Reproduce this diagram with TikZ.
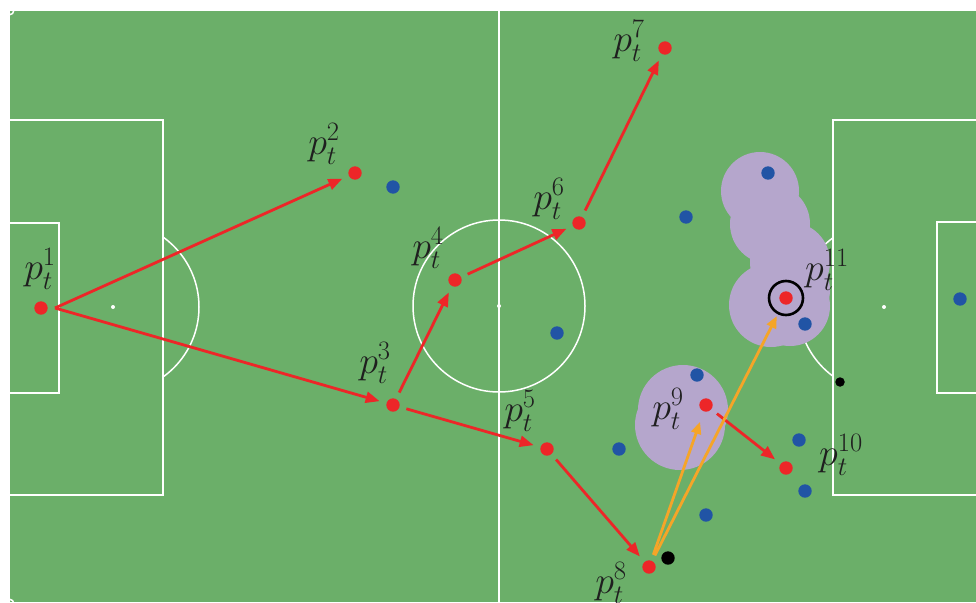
\RequirePackage{fix-cm}
\documentclass[tikz,border=0pt]{standalone}
\usetikzlibrary{arrows.meta}
\definecolor{pitch}{RGB}{107,175,105}
\definecolor{pred}{RGB}{237,38,40}
\definecolor{pblue}{RGB}{33,84,165}
\definecolor{porange}{RGB}{245,165,40}
\definecolor{ppurple}{RGB}{181,166,204}
\begin{document}
\begin{tikzpicture}[x=1pt,y=-1pt,
  pline/.style={white,line width=1.5pt},
  dot/.style={circle,inner sep=0pt,minimum size=13.4pt,draw=none},
  reddot/.style={dot,fill=pred},
  bluedot/.style={dot,fill=pblue},
  blackdot/.style={dot,fill=black},
  redarr/.style={pred,line width=2.8pt,-{Triangle[length=14pt,width=11pt]},shorten <=7pt,shorten >=7pt},
  orarr/.style={porange,line width=2.8pt,-{Triangle[length=12pt,width=10pt]}},
  lbl/.style={inner sep=0pt,font=\fontsize{38}{40}\selectfont,text=black!88}]
\useasboundingbox (0,0) rectangle (976,602);
\fill[white] (0,0) rectangle (976,602);
\fill[pitch] (9,10) rectangle (976,602);
% pitch markings
\begin{scope}
  \clip (9,10) rectangle (976,602);
  \draw[pline] (9,10) rectangle (989,604);
  \draw[pline] (9,10) circle (5);
  \draw[pline] (9,604) circle (5);
  \draw[pline] (499,10) -- (499,604);
  \draw[pline] (499,306) circle (86);
  \fill[white] (499,306) circle (2);
  \draw[pline] (9,120) rectangle (163,495);
  \draw[pline] (9,223) rectangle (59,393);
  \fill[white] (113,307) circle (2);
  \begin{scope}
    \clip (163,0) rectangle (300,602);
    \draw[pline] (113,307) circle (86);
  \end{scope}
  \draw[pline] (833,120) rectangle (989,495);
  \draw[pline] (937,222) rectangle (989,393);
  \fill[white] (884,307) circle (2);
  \begin{scope}
    \clip (700,0) rectangle (833,602);
    \draw[pline] (884,307) circle (86);
  \end{scope}
\end{scope}
% influence regions
\fill[ppurple] (760,191) circle (39);
\fill[ppurple] (770,224) circle (40);
\fill[ppurple] (790,262) circle (40);
\fill[ppurple] (790,290) circle (40);
\fill[ppurple] (771,305) circle (42);
\fill[ppurple] (790,306) circle (40);
\fill[ppurple] (683,410) circle (45);
\fill[ppurple] (680,425) circle (45);
% blue players
\node[bluedot] (b1) at (393,187) {};
\node[bluedot] (b2) at (686,217) {};
\node[bluedot] (b3) at (768,173) {};
\node[bluedot] (b4) at (805,324) {};
\node[bluedot] (b5) at (557,333) {};
\node[bluedot] (b6) at (697,375) {};
\node[bluedot] (b7) at (619,449) {};
\node[bluedot] (b8) at (799,440) {};
\node[bluedot] (b9) at (805,491) {};
\node[bluedot] (b10) at (706,515) {};
\node[bluedot] (b11) at (960,299) {};
% black
\node[blackdot] (k1) at (668,558) {};
\node[blackdot,minimum size=9.5pt] (k2) at (840,382) {};
% red players
\node[reddot] (r1) at (41,308) {};
\node[reddot] (r2) at (355,173) {};
\node[reddot] (r3) at (393,405) {};
\node[reddot] (r4) at (455,280) {};
\node[reddot] (r5) at (547,449) {};
\node[reddot] (r6) at (579,223) {};
\node[reddot] (r7) at (665,48) {};
\node[reddot] (r8) at (649,567) {};
\node[reddot] (r9) at (706,405) {};
\node[reddot] (r10) at (786,468) {};
\node[reddot] (r11) at (786,298) {};
\node[circle,draw=black,line width=2.6pt,minimum size=34pt,inner sep=0pt] (ring) at (r11) {};
% passes
\draw[redarr,shorten <=0pt] ([xshift=14pt]r1.center) -- (r2);
\draw[redarr,shorten <=0pt] ([xshift=14pt]r1.center) -- (r3);
\draw[redarr] (r3) -- (r4);
\draw[redarr] (r3) -- (r5);
\draw[redarr] (r4) -- (r6);
\draw[redarr] (r6) -- (r7);
\draw[redarr] (r5) -- (r8);
\draw[redarr] (r9) -- (r10);
\draw[orarr,shorten <=6pt,shorten >=11pt] (r8) -- (r9);
\draw[orarr,shorten <=6pt,shorten >=2pt] (r8) -- (ring);
% labels
\node[lbl] (l1) at (40,269) {$p_t^{1}$};
\node[lbl] (l2) at (324,144) {$p_t^{2}$};
\node[lbl] (l3) at (375,363) {$p_t^{3}$};
\node[lbl] (l4) at (428,248) {$p_t^{4}$};
\node[lbl] (l5) at (520,411) {$p_t^{5}$};
\node[lbl] (l6) at (549,199) {$p_t^{6}$};
\node[lbl] (l7) at (629,41) {$p_t^{7}$};
\node[lbl] (l8) at (611,583) {$p_t^{8}$};
\node[lbl] (l9) at (668,409) {$p_t^{9}$};
\node[lbl] (l10) at (841,455) {$p_t^{10}$};
\node[lbl] (l11) at (827,270) {$p_t^{11}$};
\end{tikzpicture}
\end{document}
